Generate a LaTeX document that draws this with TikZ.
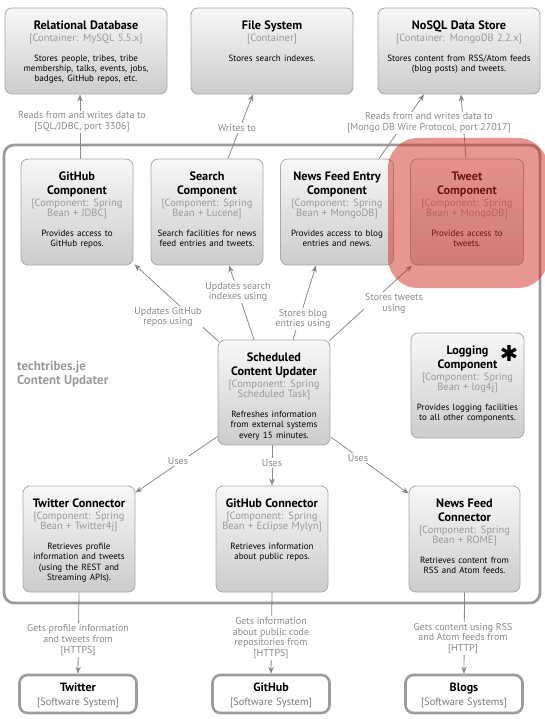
\documentclass[tikz,border=0pt]{standalone}
\usepackage{fontspec}
\setmainfont{PT Sans}
\newfontfamily\symfont{DejaVu Sans}
\usetikzlibrary{arrows.meta}
\definecolor{techgray}{HTML}{9A9A9A}
\definecolor{linegray}{HTML}{8A8A8A}
\definecolor{labelgray}{HTML}{8A8A8A}
\definecolor{bordergray}{HTML}{A8A8A8}
\definecolor{boundgray}{HTML}{9C9C9C}
\definecolor{extgray}{HTML}{7A7A7A}
\definecolor{hl}{RGB}{210,45,38}
\tikzset{
  cbox/.style={draw=bordergray, line width=0.8pt, rounded corners=7pt,
    top color=white!97!black, bottom color=white!80!black, inner sep=0pt},
  extbox/.style={draw=boundgray, line width=2.6pt, rounded corners=8pt, fill=white,
    inner sep=0pt, minimum width=117pt, minimum height=38pt},
  ctxt/.style={anchor=north, align=center, text width=150pt, inner sep=0pt},
  conn/.style={draw=linegray, line width=0.8pt, -{Stealth[length=7pt,width=5.5pt]}},
  lbl/.style={fill=white, inner sep=1pt, align=center, text=labelgray,
    font=\fontsize{10}{10.8}\selectfont},
}
\newcommand\ctext[3]{{\fontsize{12.2}{13.8}\selectfont\bfseries #1\par}\vspace{1.5pt}{\fontsize{10.5}{10.4}\selectfont\color{techgray}#2\par}\vspace{9.5pt}{\fontsize{9}{10.3}\selectfont #3\par}}
\newcommand\etext[2]{{\fontsize{12}{13}\selectfont\bfseries #1\par}{\fontsize{10.5}{14}\selectfont\color{extgray}#2\par}}
\begin{document}
\begin{tikzpicture}[x=1pt,y=-1pt]
\useasboundingbox (0,0) rectangle (544,719);
% container boundary
\draw[draw=boundgray, line width=2.8pt, rounded corners=10pt] (4,145) rectangle (540,603);
\node[anchor=north west, inner sep=0pt, align=left, text=techgray,
  font=\fontsize{13}{14}\selectfont\bfseries] (blabel) at (17,361) {techtribes.je\\Content Updater};
% top containers
\node[cbox, minimum width=162pt, minimum height=86pt] (reldb) at (86,51) {};
\node[ctxt] at ([yshift=-13pt]reldb.north) {\ctext{Relational Database}{[Container: MySQL 5.5.x]}{Stores people, tribes, tribe\\membership, talks, events, jobs,\\badges, GitHub repos, etc.}};
\node[cbox, minimum width=162pt, minimum height=86pt] (fs) at (272,51) {};
\node[ctxt] at ([yshift=-13pt]fs.north) {\ctext{File System}{[Container]}{Stores search indexes.}};
\node[cbox, minimum width=162pt, minimum height=86pt] (nosql) at (459,51) {};
\node[ctxt] at ([yshift=-13pt]nosql.north) {\ctext{NoSQL Data Store}{[Container: MongoDB 2.2.x]}{Stores content from RSS/Atom feeds\\(blog posts) and tweets.}};
% components row 1
\node[cbox, minimum width=112pt, minimum height=106pt] (ghc) at (77,212) {};
\node[ctxt] at ([yshift=-13pt]ghc.north) {\ctext{GitHub\\Component}{[Component: Spring\\Bean + JDBC]}{Provides access to\\GitHub repos.}};
\node[cbox, minimum width=112pt, minimum height=106pt] (search) at (207,212) {};
\node[ctxt] at ([yshift=-13pt]search.north) {\ctext{Search\\Component}{[Component: Spring\\Bean + Lucene]}{Search facilities for news\\feed entries and tweets.}};
\node[cbox, minimum width=113pt, minimum height=106pt] (nfe) at (337,212) {};
\node[ctxt] at ([yshift=-13pt]nfe.north) {\ctext{News Feed Entry\\Component}{[Component: Spring\\Bean + MongoDB]}{Provides access to blog\\entries and news.}};
\node[cbox, minimum width=113pt, minimum height=106pt] (tweet) at (467,212) {};
\node[ctxt] at ([yshift=-13pt]tweet.north) {\ctext{Tweet\\Component}{[Component: Spring\\Bean + MongoDB]}{Provides access to\\tweets.}};
% middle
\node[cbox, minimum width=112pt, minimum height=105pt] (sched) at (274,392.5) {};
\node[ctxt] at ([yshift=-13pt]sched.north) {\ctext{Scheduled\\Content Updater}{[Component: Spring\\Scheduled Task]}{Refreshes information\\from external systems\\every 15 minutes.}};
\node[cbox, minimum width=113pt, minimum height=105pt] (logging) at (467.5,385.5) {};
\node[ctxt] at ([yshift=-13pt]logging.north) {\ctext{Logging\\Component}{[Component: Spring\\Bean + log4j]}{Provides logging facilities\\to all other components.}};
\node[inner sep=0pt, font=\symfont\fontsize{22}{22}\selectfont\bfseries] (star) at (509,353) {✱};
% connectors row
\node[cbox, minimum width=112pt, minimum height=106pt] (twc) at (79,539) {};
\node[ctxt] at ([yshift=-13pt]twc.north) {\ctext{Twitter Connector}{[Component: Spring\\Bean + Twitter4j]}{Retrieves profile\\information and tweets\\(using the REST and\\Streaming APIs).}};
\node[cbox, minimum width=112pt, minimum height=106pt] (ghconn) at (272,539) {};
\node[ctxt] at ([yshift=-13pt]ghconn.north) {\ctext{GitHub Connector}{[Component: Spring\\Bean + Eclipse Mylyn]}{Retrieves information\\about public repos.}};
\node[cbox, minimum width=111pt, minimum height=106pt] (nfconn) at (464.5,539) {};
\node[ctxt] at ([yshift=-13pt]nfconn.north) {\ctext{News Feed\\Connector}{[Component: Spring\\Bean + ROME]}{Retrieves content from\\RSS and Atom feeds.}};
% external systems
\node[extbox] (twitter) at (78,694) {};
\node[ctxt, anchor=center, text width=117pt] at ([yshift=-1pt]twitter.center) {\etext{Twitter}{[Software System]}};
\node[extbox] (github) at (271,694) {};
\node[ctxt, anchor=center, text width=117pt] at ([yshift=-1pt]github.center) {\etext{GitHub}{[Software System]}};
\node[extbox] (blogs) at (464,694) {};
\node[ctxt, anchor=center, text width=117pt] at ([yshift=-1pt]blogs.center) {\etext{Blogs}{[Software Systems]}};
% connectors
\draw[conn] ([xshift=3pt]ghc.north) -- ([xshift=-6pt]reldb.south);
\draw[conn] ([xshift=21pt]search.north) -- ([xshift=-19pt]fs.south);
\draw[conn] ([xshift=42pt]nfe.north) -- ([xshift=-35pt]nosql.south);
\draw[conn] ([xshift=-1pt]tweet.north) -- ([xshift=2pt]nosql.south);
\draw[conn] ([shift={(1,2)}]sched.north west) -- ([shift={(1,-1)}]ghc.south east);
\draw[conn] ([xshift=-20pt]sched.north) -- ([xshift=22pt]search.south);
\draw[conn] ([xshift=19pt]sched.north) -- ([xshift=-21pt]nfe.south);
\draw[conn] ([shift={(-1,1)}]sched.north east) -- ([xshift=2pt]tweet.south west);
\draw[conn] ([shift={(0,-9)}]sched.south west) -- ([shift={(0,7)}]twc.north east);
\draw[conn] ([xshift=-2pt]sched.south) -- (ghconn.north);
\draw[conn] ([shift={(1,-8)}]sched.south east) -- ([shift={(0,8)}]nfconn.north west);
\draw[conn] (twc.south) -- (twitter.north);
\draw[conn] (ghconn.south) -- (github.north);
\draw[conn] (nfconn.south) -- (blogs.north);
% labels
\node[lbl] (l1) at (82,122) {Reads from and writes data to\\{}[SQL/JDBC, port 3306]};
\node[lbl] (l2) at (237,128) {Writes to};
\node[lbl] (l3) at (429,123) {Reads from and writes data to\\{}[Mongo DB Wire Protocol, port 27017]};
\node[lbl] (l4) at (168,317) {Updates GitHub\\repos using};
\node[lbl] (l5) at (238,292) {Updates search\\indexes using};
\node[lbl] (l6) at (303,319) {Stores blog\\entries using};
\node[lbl] (l7) at (394,303.5) {Stores tweets\\using};
\node[lbl] (l8) at (178,461) {Uses};
\node[lbl] (l9) at (272,463) {Uses};
\node[lbl] (l10) at (358,458) {Uses};
\node[lbl] (l11) at (78,640) {Gets profile information\\and tweets from\\{}[HTTPS]};
\node[lbl] (l12) at (271,638) {Gets information\\about public code\\repositories from\\{}[HTTPS]};
\node[lbl] (l13) at (463,638.5) {Gets content using RSS\\and Atom feeds from\\{}[HTTP]};
% highlight
\fill[hl, opacity=0.5, rounded corners=30pt] (388,138) rectangle (548,288);
\end{tikzpicture}
\end{document}
